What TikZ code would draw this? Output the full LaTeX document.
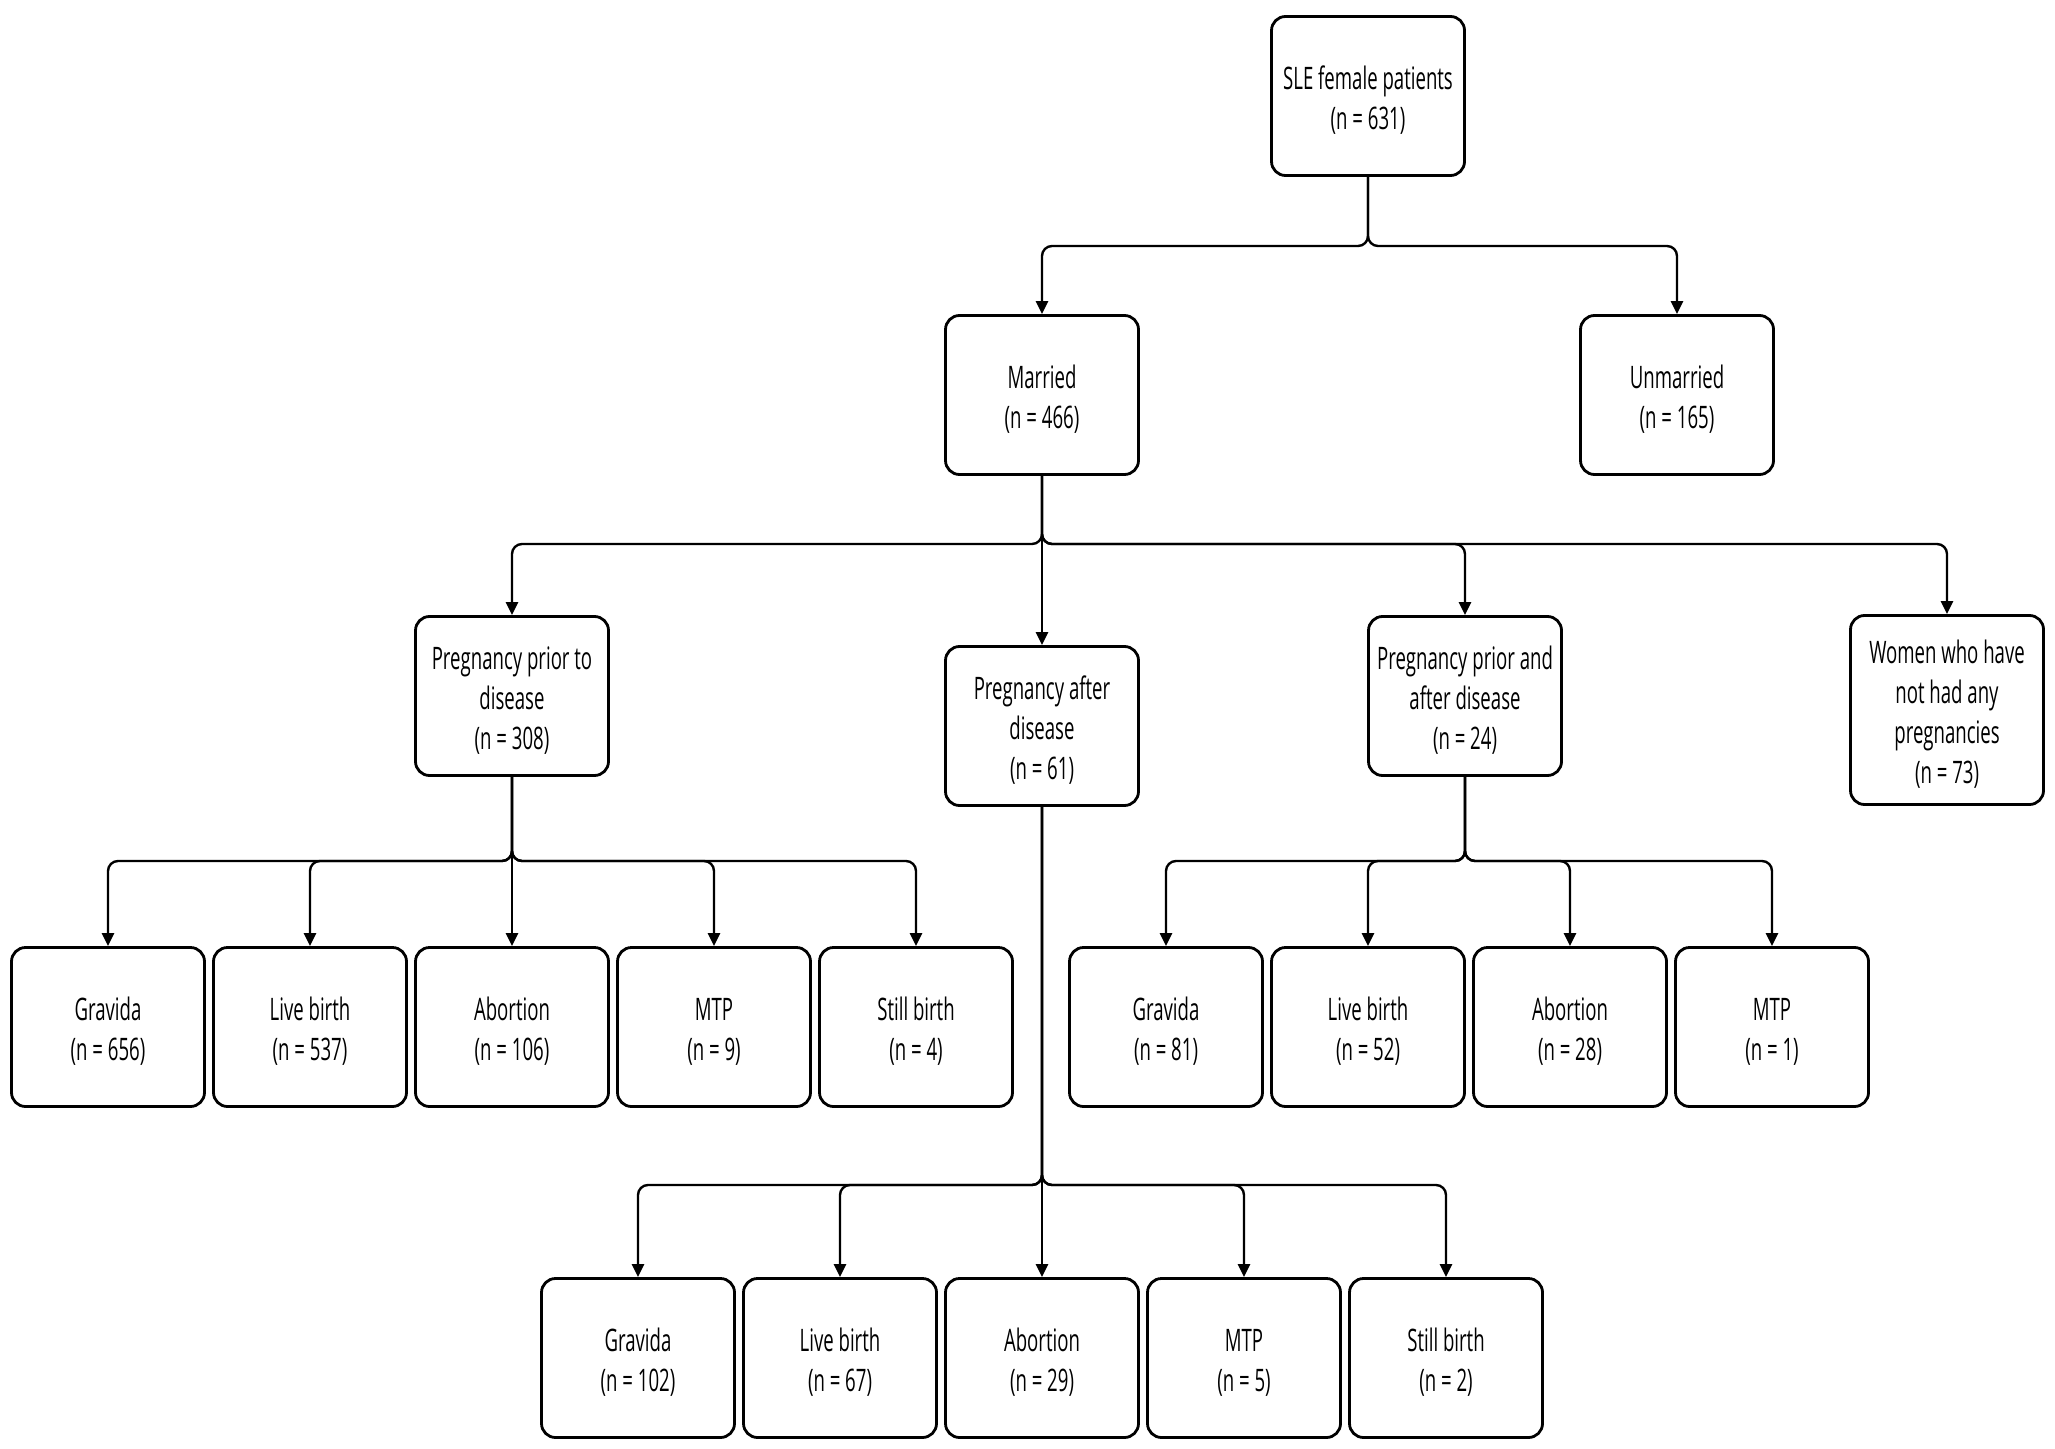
\documentclass[tikz,border=0pt]{standalone}
\usepackage{fontspec}
\setmainfont{Open Sans}[FakeStretch=0.6]
\usetikzlibrary{arrows.meta}
\newcommand\Tup{\rule{0pt}{16pt}}
\begin{document}
\begin{tikzpicture}[x=0.5pt,y=-0.5pt,
  box/.style={draw, line width=1.4pt, rounded corners=7pt, minimum width=96.5pt,
    minimum height=79.5pt, align=center, inner sep=2pt,
    font=\fontsize{15.5}{20}\selectfont},
  conn/.style={line width=1.2pt, rounded corners=5pt,
    -{Triangle[length=6.5pt,width=6pt]}}]
\useasboundingbox (0,0) rectangle (2055,1449);
\fill[white] (0,0) rectangle (2055,1449);
% level 1-2
\node[box] (sle) at (1368,96) {\Tup SLE female patients\\(n = 631)};
\node[box] (mar) at (1042,395) {\Tup Married\\(n = 466)};
\node[box] (unm) at (1677,395) {\Tup Unmarried\\(n = 165)};
% level 3
\node[box] (ppd) at (512,696) {\Tup Pregnancy prior to\\disease\\(n = 308)};
\node[box] (pad) at (1042,726) {\Tup Pregnancy after\\disease\\(n = 61)};
\node[box] (ppad) at (1465,696) {\Tup Pregnancy prior and\\after disease\\(n = 24)};
\node[box, minimum height=94.5pt] (none) at (1947,710) {\Tup Women who have\\not had any\\pregnancies\\(n = 73)};
% left group
\node[box] (l1) at (108,1027) {\Tup Gravida\\(n = 656)};
\node[box] (l2) at (310,1027) {\Tup Live birth\\(n = 537)};
\node[box] (l3) at (512,1027) {\Tup Abortion\\(n = 106)};
\node[box] (l4) at (714,1027) {\Tup MTP\\(n = 9)};
\node[box] (l5) at (916,1027) {\Tup Still birth\\(n = 4)};
% right group
\node[box] (r1) at (1166,1027) {\Tup Gravida\\(n = 81)};
\node[box] (r2) at (1368,1027) {\Tup Live birth\\(n = 52)};
\node[box] (r3) at (1570,1027) {\Tup Abortion\\(n = 28)};
\node[box] (r4) at (1772,1027) {\Tup MTP\\(n = 1)};
% bottom group
\node[box] (m1) at (638,1358) {\Tup Gravida\\(n = 102)};
\node[box] (m2) at (840,1358) {\Tup Live birth\\(n = 67)};
\node[box] (m3) at (1042,1358) {\Tup Abortion\\(n = 29)};
\node[box] (m4) at (1244,1358) {\Tup MTP\\(n = 5)};
\node[box] (m5) at (1446,1358) {\Tup Still birth\\(n = 2)};
% bus coordinates
\coordinate (b1) at (0,246);
\coordinate (b2) at (0,544);
\coordinate (b3) at (0,861);
\coordinate (b4) at (0,1185);
% connectors
\draw[conn] (sle.south) -- (sle.south |- b1) -| (mar.north);
\draw[conn] (sle.south) -- (sle.south |- b1) -| (unm.north);
\draw[conn] (mar.south) -- (mar.south |- b2) -| (ppd.north);
\draw[conn] (mar.south) -- (pad.north);
\draw[conn] (mar.south) -- (mar.south |- b2) -| (ppad.north);
\draw[conn] (mar.south) -- (mar.south |- b2) -| (none.north);
\foreach \c in {l1,l2,l4,l5}{
  \draw[conn] (ppd.south) -- (ppd.south |- b3) -| (\c.north);
}
\draw[conn] (ppd.south) -- (l3.north);
\foreach \c in {r1,r2,r3,r4}{
  \draw[conn] (ppad.south) -- (ppad.south |- b3) -| (\c.north);
}
\foreach \c in {m1,m2,m4,m5}{
  \draw[conn] (pad.south) -- (pad.south |- b4) -| (\c.north);
}
\draw[conn] (pad.south) -- (m3.north);
\end{tikzpicture}
\end{document}
